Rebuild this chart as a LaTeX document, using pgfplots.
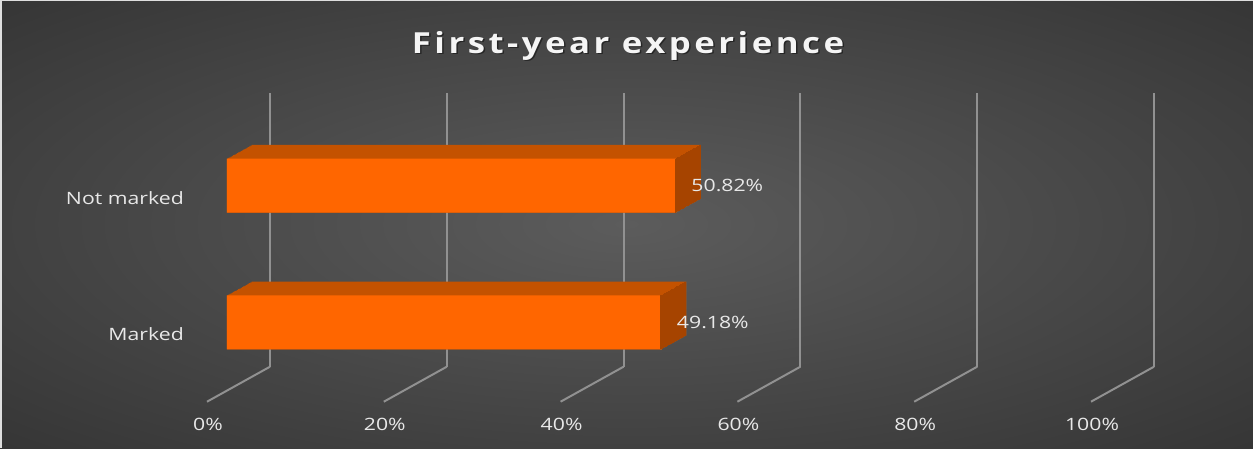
\documentclass[border=0pt]{standalone}
\usepackage{pgfplots}
\pgfplotsset{compat=1.18}
\usepackage{pgfplotstable}
\usepackage{fontspec}
\setmainfont[FakeStretch=1.25]{Open Sans}
\newfontfamily\titlefont[FakeStretch=1.2,LetterSpace=12]{Open Sans}

\definecolor{barfront}{RGB}{255,102,0}
\definecolor{bartop}{RGB}{196,82,0}
\definecolor{barside}{RGB}{166,68,0}
\definecolor{gridc}{RGB}{145,145,145}
\definecolor{labelc}{RGB}{232,232,232}
\definecolor{bglight}{RGB}{92,92,92}
\definecolor{bgdark}{RGB}{38,38,38}
\pgfdeclareradialshading{bgshade}{\pgfpoint{0bp}{0bp}}{color(0bp)=(bglight); color(50bp)=(bgdark)}

% y = category (0 Marked, 1 Not marked), x = share in %
\pgfplotstableread{
y x
0 49.18
1 50.82
}\bardata

\begin{document}
\begin{tikzpicture}[x=1pt,y=1pt]
\useasboundingbox (0,0) rectangle (1253,448);
\shade[shading=bgshade] (0,0) rectangle (1253,448);
\draw[white!75!gray, line width=1.5pt] (0.75,0) -- (0.75,447.25) -- (1253,447.25);

\node[anchor=base, text=black, opacity=0.45, font=\titlefont\bfseries\fontsize{29}{33}\selectfont] at (629.5,393.2) {First-year experience};
\node[anchor=base, text=white!96!black, font=\titlefont\bfseries\fontsize{29}{33}\selectfont] at (628,394.7) {First-year experience};

\begin{axis}[
    at={(270pt,81.3pt)}, anchor=south west,
    scale only axis, width=884pt, height=273.4pt,
    xmin=0, xmax=100, ymin=-0.5, ymax=1.5,
    clip=false,
    axis line style={draw=none},
    major tick length=0pt,
    xtick={0,20,...,100},
    ytick={0,1},
    yticklabels={Marked,Not marked},
    xmajorgrids,
    grid style={gridc, line width=2pt},
    xticklabel={\pgfmathprintnumber{\tick}\%},
    /pgf/number format/assume math mode=true,
    ticklabel style={font=\fontsize{17}{20}\selectfont, text=labelc, inner sep=0pt},
    xticklabel style={anchor=center, xshift=-62pt, yshift=-58pt},
    yticklabel style={anchor=east, xshift=-86pt, yshift=-36pt},
  ]

  % floor part of the gridlines
  \pgfplotsinvokeforeach{0,20,...,100}{
    \draw[gridc, line width=2pt, line join=round] (axis cs:#1,-0.5) -- ++(-63pt,-35pt);
  }

  % depth of the bars: copies from back to front, top face + side face
  \pgfplotsinvokeforeach{0,...,20}{
    \addplot[xbar, bar width=54pt, bar shift=0pt, fill=bartop, draw=none,
      xshift={-18.3pt-1.235pt*#1}, yshift={-10.3pt-0.685pt*#1}]
      table[x=x,y=y]{\bardata};
    \addplot[only marks, mark=|, mark size=27pt, barside, line width=1.5pt,
      xshift={-19.05pt-1.235pt*#1}, yshift={-10.3pt-0.685pt*#1}]
      table[x=x,y=y]{\bardata};
  }

  % front face
  \addplot[xbar, bar width=54pt, bar shift=0pt, fill=barfront, draw=none,
    xshift=-43pt, yshift=-24pt,
    point meta=x,
    nodes near coords={\pgfmathprintnumber[fixed,fixed zerofill,precision=2]{\pgfplotspointmeta}\%},
    nodes near coords style={anchor=west, inner sep=0pt, xshift=15pt,
      font=\fontsize{17}{20}\selectfont, text=labelc,
      /pgf/number format/assume math mode=true}]
    table[x=x,y=y]{\bardata};
\end{axis}
\end{tikzpicture}
\end{document}
